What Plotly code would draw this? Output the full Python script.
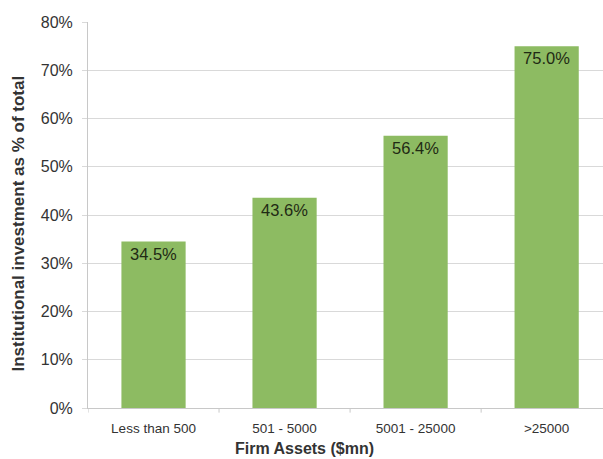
import plotly.graph_objects as go

categories = ["Less than 500", "501 - 5000", "5001 - 25000", ">25000"]
values = [34.5, 43.6, 56.4, 75.0]
y_ticks = [0, 10, 20, 30, 40, 50, 60, 70, 80]
y_tick_labels = [f"{v}%" for v in y_ticks]

FONT = "Liberation Sans, Arial, sans-serif"

fig = go.Figure(
    go.Bar(
        x=list(range(len(categories))),
        y=values,
        width=0.49,
        marker=dict(color="#8DBB62", line=dict(width=0)),
        text=[f"{v:.1f}%" for v in values],
        textposition="inside",
        insidetextanchor="end",
        textangle=0,
        textfont=dict(family=FONT, size=16.5, color="#1f2a14"),
    )
)

fig.update_layout(
    width=603,
    height=459,
    margin=dict(l=88, r=0, t=22, b=51),
    paper_bgcolor="white",
    plot_bgcolor="white",
    showlegend=False,
    font=dict(family=FONT, color="#333333"),
    xaxis=dict(
        tickmode="array",
        tickvals=list(range(len(categories))),
        ticktext=categories,
        range=[-0.5, 3.43],
        showgrid=False,
        showline=True,
        linecolor="#c8c8c8",
        linewidth=1,
        ticks="",
        ticklabelstandoff=8,
        tickfont=dict(size=13.5, color="#333333"),
    ),
    yaxis=dict(
        range=[0, 80],
        tickmode="array",
        tickvals=y_ticks,
        ticktext=y_tick_labels,
        showgrid=True,
        gridcolor="#d9d9d9",
        gridwidth=1,
        showline=True,
        linecolor="#c8c8c8",
        linewidth=1,
        ticks="outside",
        ticklen=5,
        tickcolor="#d9d9d9",
        ticklabelstandoff=6,
        zeroline=False,
        tickfont=dict(size=16, color="#333333"),
    ),
)

# axis titles
fig.add_annotation(
    text="<b>Firm Assets ($mn)</b>",
    xref="paper", yref="paper", x=0.421, y=0,
    xanchor="center", yanchor="middle", yshift=-40,
    showarrow=False, font=dict(family=FONT, size=16, color="#333333"),
)
fig.add_annotation(
    text="<b>Institutional investment as % of total</b>",
    xref="paper", yref="paper", x=0, y=0.478,
    xanchor="center", yanchor="middle", xshift=-70,
    textangle=-90,
    showarrow=False, font=dict(family=FONT, size=17, color="#333333"),
)

# category boundary tick marks along the bottom axis
for b in [-0.5, 0.5, 1.5, 2.5]:
    fig.add_shape(
        type="line", xref="x", yref="paper",
        x0=b, x1=b, y0=0, y1=-0.012,
        line=dict(color="#c8c8c8", width=1),
    )

fig.write_html("out.html")
